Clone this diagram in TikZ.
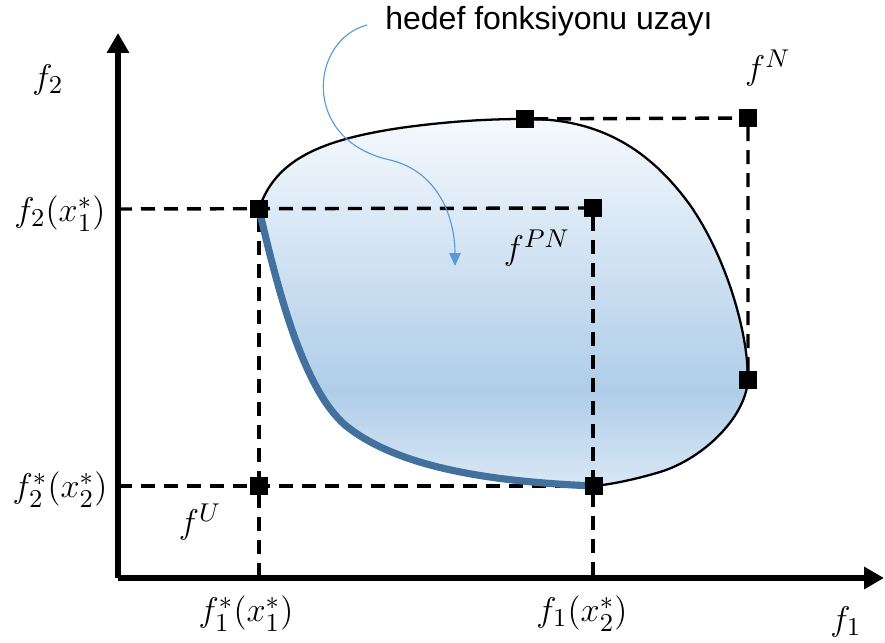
\documentclass[tikz,border=0pt]{standalone}
\usepackage{amsmath}
\usepackage{amssymb}
\usepackage{fontspec}
\setsansfont{Liberation Sans}
\usepackage{xcolor}
\usetikzlibrary{arrows.meta}

\definecolor{paretoblue}{HTML}{41719C}
\definecolor{notearrow}{HTML}{5B9BD5}
\definecolor{shadetop}{HTML}{F5F9FD}
\definecolor{shademid}{HTML}{AFCDE9}
\definecolor{shadebot}{HTML}{D9E7F5}
\pgfdeclareverticalshading{spaceshade}{100bp}{color(0bp)=(shadebot); color(25bp)=(shadebot); color(38bp)=(shademid); color(75bp)=(shadetop); color(100bp)=(shadetop)}

\tikzset{
  axis/.style={line width=2pt, -{Triangle[length=7pt,width=7.5pt]}},
  guide/.style={line width=1.2pt, dash pattern=on 4.9pt off 3.15pt},
  pt/.style={fill=black, inner sep=0pt, minimum size=6pt},
  lbl/.style={font=\fontsize{13}{15}\selectfont},
}

\begin{document}
\begin{tikzpicture}[x=0.35pt, y=-0.35pt]
\useasboundingbox (0,0) rectangle (885,643);

% Axes corner
\coordinate (origin) at (118,578);
\coordinate (ytip) at (118,33);
\coordinate (xtip) at (884,578);

% Special points
\node[pt] (pA) at (259,209) {};
\node[pt] (pPN) at (593,208) {};
\node[pt] (pT) at (525,119) {};
\node[pt] (pN) at (748,118) {};
\node[pt] (pR) at (748,380) {};
\node[pt] (pB) at (594,486) {};
\node[pt] (pU) at (259,486) {};

% Objective space
\path[shading=spaceshade] (pA.center) .. controls (275,160) and (320,140) .. (400,128)
  .. controls (450,121) and (490,119) .. (pT.center)
  .. controls (600,118) and (650,150) .. (690,205)
  .. controls (725,255) and (748,330) .. (pR.center)
  .. controls (745,420) and (700,460) .. (660,472)
  .. controls (640,478) and (615,484) .. (pB.center)
  .. controls (500,482) and (400,470) .. (345,425)
  .. controls (305,390) and (280,300) .. (pA.center) -- cycle;

% Dashed guides
\draw[guide] (pA -| origin) -- (pPN);
\draw[guide] (pPN) -- (pPN |- origin);
\draw[guide] (pA) -- (pA |- origin);
\draw[guide] (pB -| origin) -- (pB);
\draw[guide] (pT) -- (pN) -- (pR);

% Outline and Pareto front
\draw[line width=0.8pt] (pA.center) .. controls (275,160) and (320,140) .. (400,128)
  .. controls (450,121) and (490,119) .. (pT.center)
  .. controls (600,118) and (650,150) .. (690,205)
  .. controls (725,255) and (748,330) .. (pR.center)
  .. controls (745,420) and (700,460) .. (660,472)
  .. controls (640,478) and (615,484) .. (pB.center);
\draw[paretoblue, line width=2.5pt] (pB.center) .. controls (500,482) and (400,470) .. (345,425)
  .. controls (305,390) and (280,300) .. (pA.center);

% Points on top
\foreach \p in {pA,pPN,pT,pN,pR,pB,pU} \fill (\p.south west) rectangle (\p.north east);

% Axes
\draw[axis] (origin) -- (ytip);
\draw[axis] (origin) -- (xtip);

% Labels
\node[lbl] (lf2) at (48,80) {$f_2$};
\node[lbl] (lf1) at (846,622) {$f_1$};
\node[lbl] (lA) at (60,214) {$f_2(x_1^*)$};
\node[lbl] (lB) at (60,490) {$f_2^*(x_2^*)$};
\node[lbl] (lx1) at (246,614) {$f_1^*(x_1^*)$};
\node[lbl] (lx2) at (582,614) {$f_1(x_2^*)$};
\node[lbl] (lU) at (200,522) {$f^U$};
\node[lbl] (lPN) at (537,248) {$f^{PN}$};
\node[lbl] (lN) at (768,68) {$f^N$};

% Note
\node[font=\sffamily\fontsize{11.2}{13}\selectfont] (note) at (549,21) {hedef fonksiyonu uzayı};
\draw[notearrow, line width=0.4pt, -{Triangle[length=4.5pt,width=4pt]}] (367,25) .. controls (310,40) and (300,140) .. (390,160)
  .. controls (440,172) and (455,220) .. (455,266);
\end{tikzpicture}
\end{document}
